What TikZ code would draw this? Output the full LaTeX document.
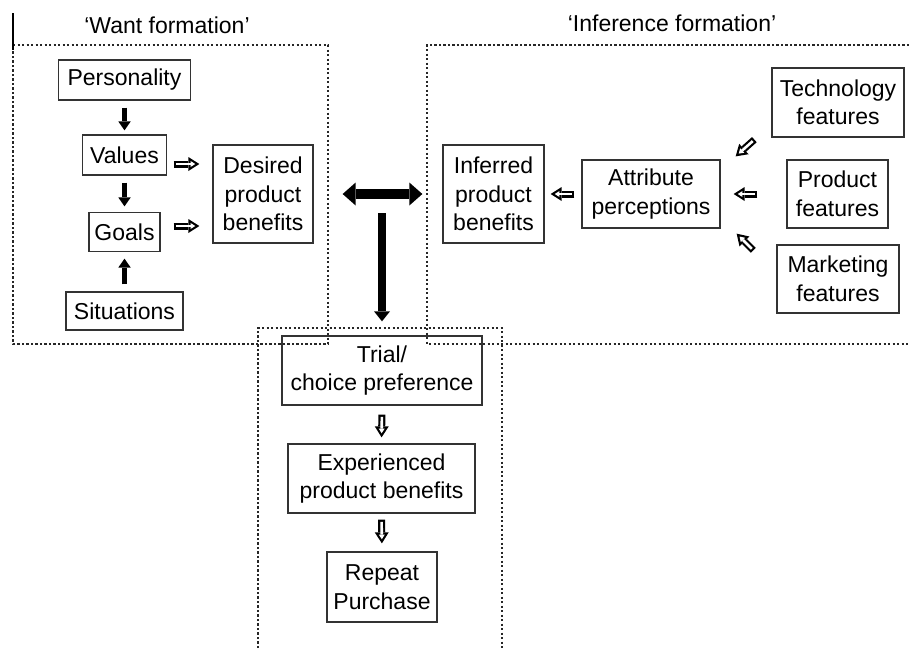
\documentclass[tikz,border=0pt]{standalone}
\usepackage{fontspec}
\setmainfont{Liberation Sans}
\usetikzlibrary{arrows.meta}

% hollow block arrow: black outline pass, then a white inner pass
\newcommand\hollowconn[4]{%
  \draw[hollowout, shorten <=#3, shorten >=#4] #1 -- #2;
  \draw[hollowin, shorten <=#3+2.2pt, shorten >=#4+4.1pt] #1 -- #2;}

\begin{document}
\begin{tikzpicture}[x=1pt, y=-1pt,
  box/.style={draw=black!80, line width=1.3pt, align=center, inner sep=0pt,
    font=\fontsize{23}{28.5}\selectfont},
  title/.style={inner sep=0pt, font=\fontsize{23}{28.5}\selectfont},
  panel/.style={line width=2.6pt, dash pattern=on 2.4pt off 2.1pt, black!85},
  solidarr/.style={line width=4.5pt, -{Triangle[length=9pt,width=12.5pt,line width=0pt]}},
  hollowout/.style={draw=black, line width=7pt,
    -{Triangle[length=11pt,width=14pt,line width=0pt]}},
  hollowin/.style={draw=white, line width=2.6pt,
    -{Triangle[length=4.7pt,width=6pt,line width=0pt]}},
  bigdouble/.style={line width=10.5pt,
    {Triangle[length=13pt,width=23pt,line width=0pt]}-{Triangle[length=13pt,width=23pt,line width=0pt]}},
  bigdown/.style={line width=8.5pt, -{Triangle[length=10pt,width=16pt,line width=0pt]}}
]
\useasboundingbox (0,0) rectangle (909,648);

% panel outlines
\draw[panel] (13,45) -- (328,45) -- (328,344) -- (13,344) -- cycle;
\draw[panel] (909,45) -- (427,45) -- (427,344) -- (909,344);
\draw[panel] (258,648) -- (258,328) -- (502,328) -- (502,648);
\draw[line width=1.3pt] (13,13) -- (13,50);

% panel titles
\node[title] (wantt) at (167,25) {‘Want formation’};
\node[title] (inft) at (672,23) {‘Inference formation’};

% want formation
\node[box, minimum width=132pt, minimum height=40pt] (pers) at (124.5,80) {Personality};
\node[box, minimum width=84pt, minimum height=40pt] (vals) at (124.5,155) {Values};
\node[box, minimum width=71pt, minimum height=39pt] (goals) at (124.5,232) {Goals};
\node[box, minimum width=117pt, minimum height=38pt] (sits) at (124.5,311) {Situations};
\node[box, minimum width=100pt, minimum height=98pt] (desired) at (263,194) {Desired\\product\\benefits};

% inference formation
\node[box, minimum width=101pt, minimum height=98pt] (inferred) at (493.5,194) {Inferred\\product\\benefits};
\node[box, minimum width=138pt, minimum height=68pt] (attr) at (651,194) {Attribute\\perceptions};
\node[box, minimum width=132pt, minimum height=69pt] (tech) at (838,102.5) {Technology\\features};
\node[box, minimum width=101pt, minimum height=68pt] (prod) at (837.5,194) {Product\\features};
\node[box, minimum width=122pt, minimum height=68pt] (mkt) at (838,279) {Marketing\\features};

% purchase sequence
\node[box, minimum width=200pt, minimum height=69pt] (trial) at (382,370.5) {Trial/\\choice preference};
\node[box, minimum width=187pt, minimum height=69pt] (exper) at (381.5,478.5) {Experienced\\product benefits};
\node[box, minimum width=110pt, minimum height=70pt] (repeat) at (382,587) {Repeat\\Purchase};

% solid arrows in the want panel
\draw[solidarr, shorten <=7pt, shorten >=4pt] (pers.south) -- (vals.north);
\draw[solidarr, shorten <=7pt, shorten >=5.5pt] (vals.south) -- (goals.north);
\draw[solidarr, shorten <=7pt, shorten >=6.5pt] (sits.north) -- (goals.south);

% hollow arrows into desired benefits
\coordinate (v1) at ([yshift=-9pt]vals.east);
\coordinate (g1) at ([yshift=6pt]goals.east);
\hollowconn{(v1)}{(v1 -| desired.west)}{6.5pt}{13pt}
\hollowconn{(g1)}{(g1 -| desired.west)}{13pt}{13pt}

% inference arrows
\hollowconn{(attr.west)}{(inferred.east)}{7pt}{6pt}
\hollowconn{(prod.west)}{(attr.east)}{29pt}{13pt}
\coordinate (t1) at ([shift={(-17,2)}]tech.south west);
\coordinate (t2) at ([shift={(15,-3)}]attr.north east);
\coordinate (m1) at ([shift={(-23,6)}]mkt.north west);
\coordinate (m2) at ([shift={(16,5)}]attr.south east);
\hollowconn{(t1)}{(t2)}{0pt}{0pt}
\hollowconn{(m1)}{(m2)}{0pt}{0pt}

% link between the two panels and down to trial
\draw[bigdouble, shorten <=29pt, shorten >=20pt] (desired.east) -- (inferred.west);
\coordinate (hub) at (382,213);
\draw[bigdown, shorten >=14pt] (hub) -- (trial.north);

% purchase sequence arrows
\hollowconn{(trial.south)}{(exper.north)}{9pt}{6pt}
\hollowconn{(exper.south)}{(repeat.north)}{6pt}{8pt}
\end{tikzpicture}
\end{document}
